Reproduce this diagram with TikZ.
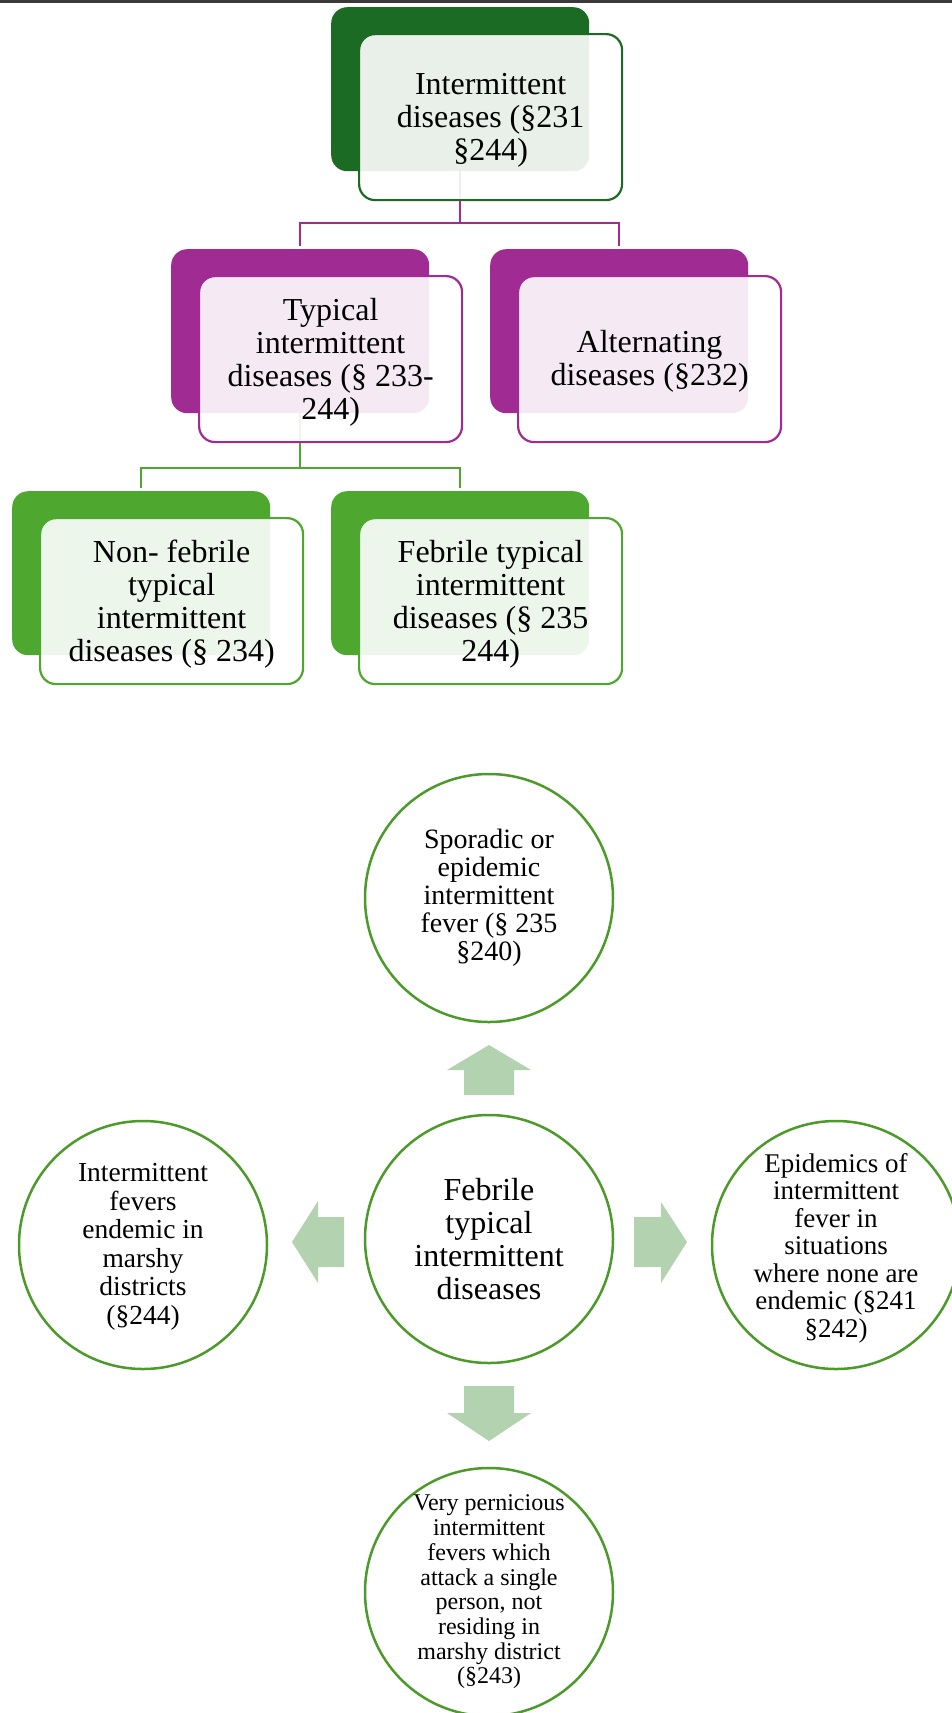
\documentclass[tikz,border=0pt]{standalone}
\usepackage{fontspec}
\setmainfont{Liberation Serif}
\definecolor{dkgreen}{RGB}{27,107,37}
\definecolor{purp}{RGB}{160,43,147}
\definecolor{lgreen}{RGB}{78,167,46}
\definecolor{cgreen}{RGB}{76,154,42}
\definecolor{arrcol}{RGB}{179,210,176}
\definecolor{topline}{RGB}{58,58,58}
\tikzset{
  backbox/.style={rectangle, rounded corners=16pt, fill=#1, draw=none, minimum width=258pt, minimum height=164pt, inner sep=0pt, anchor=north west},
  frontbox/.style={rectangle, rounded corners=16pt, draw=#1, line width=2.2pt, fill=white, fill opacity=0.9, text opacity=1, minimum width=263pt, minimum height=166pt, inner sep=0pt},
  boxtext/.style={align=center, inner sep=0pt, font=\fontsize{32}{33}\selectfont},
  conn/.style={draw=#1, line width=2pt, line join=miter},
  circ/.style={circle, draw=cgreen, line width=2.5pt, fill=white, minimum size=248pt, inner sep=0pt},
  ctext/.style={align=center, inner sep=0pt},
  blockarrow/.style={fill=arrcol, draw=none}
}
\begin{document}
\begin{tikzpicture}[x=1pt,y=-1pt]
\useasboundingbox (0,0) rectangle (952,1713);
\clip (0,0) rectangle (952,1713);
\fill[topline] (0,0) rectangle (952,2.7);

% back rectangles
\node[backbox=dkgreen] (b1back) at (331,7) {};
\node[backbox=purp] (b2back) at (171,249) {};
\node[backbox=purp] (b3back) at (490,249) {};
\node[backbox=lgreen] (b4back) at (12,491) {};
\node[backbox=lgreen] (b5back) at (331,491) {};

% connectors
\draw[conn=purp] (b1back.south) -- ++(0,52) coordinate (j1);
\draw[conn=purp] (j1) -| ([yshift=3pt]b2back.north);
\draw[conn=purp] (j1) -| ([yshift=3pt]b3back.north);
\draw[conn=lgreen] (b2back.south) -- ++(0,55) coordinate (j2);
\draw[conn=lgreen] (j2) -| ([yshift=3pt]b4back.north);
\draw[conn=lgreen] (j2) -| ([yshift=3pt]b5back.north);

% front boxes
\node[frontbox=dkgreen, anchor=north west] (b1) at (358,33) {};
\node[frontbox=purp, anchor=north west] (b2) at (198,275) {};
\node[frontbox=purp, anchor=north west] (b3) at (517,275) {};
\node[frontbox=lgreen, anchor=north west] (b4) at (39,517) {};
\node[frontbox=lgreen, anchor=north west] (b5) at (358,517) {};

\node[boxtext] (bt1) at ([yshift=-3pt]b1.center) {Intermittent\\diseases (§231\\§244)};
\node[boxtext] (bt2) at ([yshift=-3pt]b2.center) {Typical\\intermittent\\diseases (§ 233-\\244)};
\node[boxtext] (bt3) at ([yshift=-2pt]b3.center) {Alternating\\diseases (§232)};
\node[boxtext] (bt4) at ([yshift=-3pt]b4.center) {Non- febrile\\typical\\intermittent\\diseases (§ 234)};
\node[boxtext] (bt5) at ([yshift=-3pt]b5.center) {Febrile typical\\intermittent\\diseases (§ 235\\244)};

% circles
\node[circ] (c0) at (489,1239) {};
\node[circ] (c1) at (489,898) {};
\node[circ] (c2) at (143,1245) {};
\node[circ] (c3) at (836,1245) {};
\node[circ] (c4) at (489,1592) {};

\node[ctext, font=\fontsize{32}{33}\selectfont] (t0) at (c0.center) {Febrile\\typical\\intermittent\\diseases};
\node[ctext, font=\fontsize{28}{28}\selectfont] (t1) at (c1.center) {Sporadic or\\epidemic\\intermittent\\fever (§ 235\\§240)};
\node[ctext, font=\fontsize{27.5}{28.5}\selectfont] (t2) at ([yshift=-2pt]c2.center) {Intermittent\\fevers\\endemic in\\marshy\\districts\\(§244)};
\node[ctext, font=\fontsize{27}{27.5}\selectfont] (t3) at ([yshift=-3pt]c3.center) {Epidemics of\\intermittent\\fever in\\situations\\where none are\\endemic (§241\\§242)};
\node[ctext, font=\fontsize{24}{24.7}\selectfont] (t4) at (c4.center) {Very pernicious\\intermittent\\fevers which\\attack a single\\person, not\\residing in\\marshy district\\(§243)};

% block arrows
\fill[blockarrow] (464,1095) -- (464,1070) -- (447,1070) -- (489,1045) -- (531,1070) -- (514,1070) -- (514,1095) -- cycle;
\fill[blockarrow] (464,1386) -- (514,1386) -- (514,1413) -- (531,1413) -- (489,1441) -- (447,1413) -- (464,1413) -- cycle;
\fill[blockarrow] (344,1217) -- (318,1217) -- (318,1201) -- (292,1242) -- (318,1283) -- (318,1267) -- (344,1267) -- cycle;
\fill[blockarrow] (634,1217) -- (661,1217) -- (661,1202) -- (687,1242) -- (661,1283) -- (661,1267) -- (634,1267) -- cycle;
\end{tikzpicture}
\end{document}
